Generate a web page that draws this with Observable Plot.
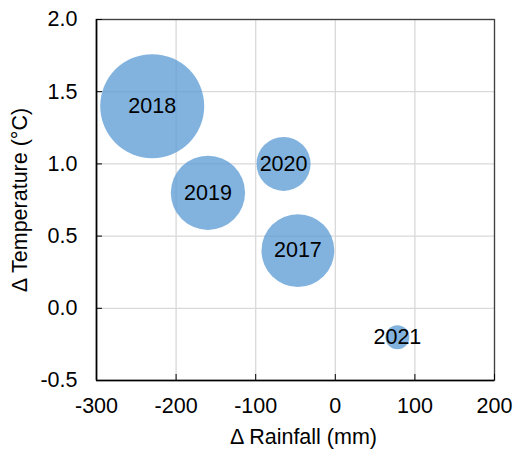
<!DOCTYPE html>
<html>
<head>
<meta charset="utf-8">
<script src="https://cdn.jsdelivr.net/npm/d3@7"></script>
<script src="https://cdn.jsdelivr.net/npm/@observablehq/plot@0.6"></script>
<style>
  body { margin: 0; background: #fff; }
</style>
</head>
<body>
<div id="chart"></div>
<script>
// Annual anomalies: rainfall (mm) vs. temperature (°C); bubble area scales with size
const years = ["2017", "2018", "2019", "2020", "2021"];
const rainfall = [-47, -230, -160, -65, 78];
const temperature = [0.4, 1.4, 0.8, 1.0, -0.2];
const bubbleSize = [49, 100, 51, 27, 5.3];

const xTicks = [-300, -200, -100, 0, 100, 200];
const yTicks = [-0.5, 0.0, 0.5, 1.0, 1.5, 2.0];

const data = years.map((year, i) => ({
  year,
  rainfall: rainfall[i],
  temperature: temperature[i],
  size: bubbleSize[i]
}));

const font = "'Liberation Sans', Arial, sans-serif";
const fs = 21.5;

const chart = Plot.plot({
  width: 513,
  height: 453,
  marginTop: 19,
  marginRight: 19,
  marginBottom: 73,
  marginLeft: 96,
  style: { fontFamily: font, fontSize: fs + "px", color: "#000", background: "#fff" },
  x: { domain: [-300, 200] },
  y: { domain: [-0.5, 2.0] },
  r: { domain: [0, 100], range: [0, 52] },
  marks: [
    Plot.gridX(xTicks, { stroke: "#d9d9d9", strokeOpacity: 1, strokeWidth: 1.3 }),
    Plot.gridY(yTicks, { stroke: "#d9d9d9", strokeOpacity: 1, strokeWidth: 1.3 }),
    Plot.dot(data, {
      x: "rainfall",
      y: "temperature",
      r: "size",
      fill: "#5b9bd5",
      fillOpacity: 0.76,
      stroke: null
    }),
    Plot.text(data, {
      x: "rainfall",
      y: "temperature",
      text: "year",
      fontSize: fs,
      fill: "#000"
    }),
    Plot.frame({ stroke: "#404040", strokeWidth: 1.3 }),
    // inward tick marks (labels drawn separately below)
    Plot.axisX(xTicks, { tickSize: -6, tickFormat: () => "", stroke: "#000", label: null }),
    Plot.axisY(yTicks, { tickSize: -6, tickFormat: () => "", stroke: "#000", label: null }),
    Plot.ruleY([-0.5], { stroke: "#000", strokeWidth: 1.6 }),
    Plot.ruleX([-300], { stroke: "#000", strokeWidth: 1.6 }),
    // tick labels
    Plot.text(xTicks, {
      x: (d) => d,
      text: (d) => String(d),
      frameAnchor: "bottom",
      lineAnchor: "top",
      textAnchor: "middle",
      dy: 17,
      fontSize: fs,
      fill: "#000"
    }),
    Plot.text(yTicks, {
      y: (d) => d,
      text: (d) => d.toFixed(1),
      frameAnchor: "left",
      textAnchor: "end",
      dx: -19,
      fontSize: fs,
      fill: "#000"
    }),
    // axis titles
    Plot.text(["Δ Rainfall (mm)"], {
      frameAnchor: "bottom",
      dy: 63,
      dx: 8,
      fontSize: fs,
      fill: "#000"
    }),
    Plot.text(["Δ Temperature (°C)"], {
      frameAnchor: "left",
      textAnchor: "middle",
      rotate: -90,
      dx: -76,
      fontSize: fs,
      fill: "#000"
    })
  ]
});

document.getElementById("chart").append(chart);
</script>
</body>
</html>
